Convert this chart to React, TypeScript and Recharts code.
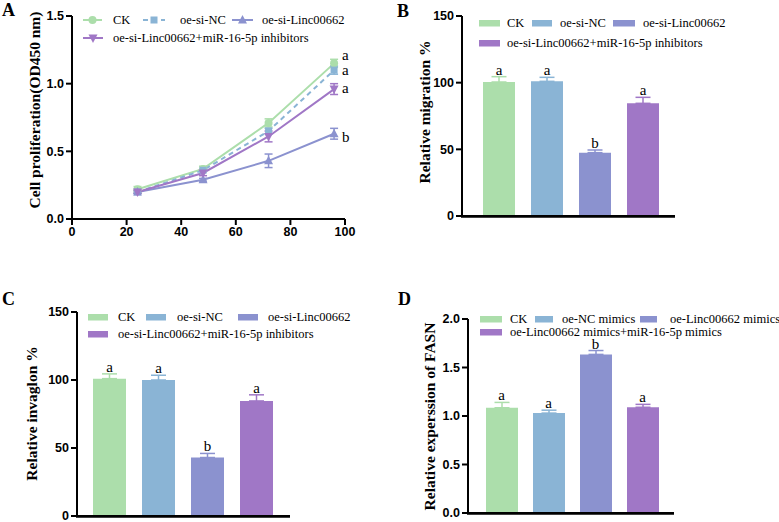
import React from "react";
import {
  ComposedChart,
  LineChart,
  Line,
  Bar,
  Cell,
  XAxis,
  YAxis,
  ErrorBar,
  LabelList,
  Legend,
  Label,
  ReferenceLine,
} from "recharts";

const SERIF = '"Liberation Serif", "Times New Roman", serif';
const SANS = '"Liberation Sans", Arial, sans-serif';
const COLORS = ["#ACDEAB", "#8AB4D5", "#8B92CF", "#A077C6"];

// panel A: proliferation curve
const hours = [24, 48, 72, 96];
const hourTicks = [0, 20, 40, 60, 80, 100];
const odTicks = [0, 0.5, 1.0, 1.5];
const odNames = ["CK", "oe-si-NC", "oe-si-Linc00662", "oe-si-Linc00662+miR-16-5p inhibitors"];
const odCK = [0.22, 0.37, 0.71, 1.15];
const odCKErr = [0.02, 0.02, 0.03, 0.03];
const odNC = [0.2, 0.36, 0.65, 1.1];
const odNCErr = [0.01, 0.01, 0.02, 0.03];
const odSi = [0.2, 0.29, 0.43, 0.63];
const odSiErr = [0.01, 0.01, 0.05, 0.04];
const odInh = [0.2, 0.34, 0.61, 0.96];
const odInhErr = [0.01, 0.02, 0.04, 0.04];
const odLetters = ["a", "a", "b", "a"];

// panels B, C
const siGroups = ["CK", "oe-si-NC", "oe-si-Linc00662", "oe-si-Linc00662+miR-16-5p inhibitors"];
const pctTicks = [0, 50, 100, 150];
const migration = [100.5, 101, 47.5, 84.5];
const migrationErr = [4, 3, 2, 4.5];
const migrationLetters = ["a", "a", "b", "a"];
const invasion = [101, 100, 43, 84.6];
const invasionErr = [3.5, 3.5, 3, 4.5];
const invasionLetters = ["a", "a", "b", "a"];

// panel D
const mimicGroups = ["CK", "oe-NC mimics", "oe-Linc00662 mimics", "oe-Linc00662 mimics+miR-16-5p mimics"];
const fasnTicks = [0, 0.5, 1.0, 1.5, 2.0];
const fasn = [1.085, 1.03, 1.635, 1.09];
const fasnErr = [0.055, 0.03, 0.04, 0.03];
const fasnLetters = ["a", "a", "b", "a"];

const odValues = [odCK, odNC, odSi, odInh];
const odErrs = [odCKErr, odNCErr, odSiErr, odInhErr];
const lineData = hours.map((h, i) => {
  const row: any = { h };
  odValues.forEach((s, k) => {
    row["s" + k] = s[i];
    row["e" + k] = odErrs[k][i];
  });
  return row;
});

const tickStyle = { fill: "#000", fontFamily: SANS, fontWeight: 700, fontSize: 12.5 };

type LegendItem = { row: number; mark: number; markW: number; text: number };

function makeLegend(
  names: string[],
  items: LegendItem[],
  rows: number[],
  swatch: (k: number, w: number) => React.ReactNode
) {
  return () => (
    <div style={{ position: "relative", width: "100%", height: "100%" }}>
      {names.map((n, k) => {
        const it = items[k];
        const cy = rows[it.row];
        return (
          <React.Fragment key={n}>
            <svg
              width={it.markW}
              height={12}
              style={{ position: "absolute", left: it.mark, top: cy - 6, overflow: "visible" }}
            >
              {swatch(k, it.markW)}
            </svg>
            <span
              style={{
                position: "absolute",
                left: it.text,
                top: cy - 8,
                height: 16,
                lineHeight: "16px",
                whiteSpace: "nowrap",
                fontFamily: SERIF,
                fontSize: 12.5,
                color: "#000",
              }}
            >
              {n}
            </span>
          </React.Fragment>
        );
      })}
    </div>
  );
}

function marker(k: number, cx: number, cy: number, color: string) {
  if (k === 0) return <circle cx={cx} cy={cy} r={4} fill={color} />;
  if (k === 1) return <rect x={cx - 3.5} y={cy - 3.5} width={7} height={7} fill={color} />;
  if (k === 2)
    return <path d={`M${cx},${cy - 5}L${cx + 4.5},${cy + 3.5}L${cx - 4.5},${cy + 3.5}Z`} fill={color} />;
  return <path d={`M${cx},${cy + 5}L${cx + 4.5},${cy - 3.5}L${cx - 4.5},${cy - 3.5}Z`} fill={color} />;
}

function yTitle(text: string, cx: number, cy: number) {
  return () => (
    <text
      x={cx}
      y={cy}
      transform={`rotate(-90 ${cx} ${cy})`}
      textAnchor="middle"
      dy="0.35em"
      fontFamily={SERIF}
      fontWeight={700}
      fontSize={15.5}
      fill="#000"
    >
      {text}
    </text>
  );
}

const legendA = makeLegend(
  odNames,
  [
    { row: 0, mark: 83, markW: 19, text: 113 },
    { row: 0, mark: 143, markW: 22, text: 180 },
    { row: 0, mark: 232, markW: 21, text: 262 },
    { row: 1, mark: 83, markW: 20, text: 113 },
  ],
  [20, 38],
  (k, w) => (
    <g>
      <line
        x1={0}
        x2={w}
        y1={6}
        y2={6}
        stroke={COLORS[k]}
        strokeWidth={2}
        strokeDasharray={k === 1 ? "5 4" : undefined}
      />
      {marker(k, w / 2, 6, COLORS[k])}
    </g>
  )
);

const letterDy = [-3, 5, 8, 4];

function PanelA() {
  return (
    <LineChart width={390} height={260} data={lineData} margin={{ top: 16, right: 45, left: 0, bottom: 11 }}>
      <XAxis
        dataKey="h"
        type="number"
        domain={[0, 100]}
        ticks={hourTicks}
        interval={0}
        axisLine={{ stroke: "#000", strokeWidth: 2 }}
        tickLine={{ stroke: "#000", strokeWidth: 2 }}
        tickSize={6}
        tick={tickStyle}
        height={30}
      />
      <YAxis
        type="number"
        domain={[0, 1.5]}
        ticks={odTicks}
        interval={0}
        tickFormatter={(v: number) => v.toFixed(1)}
        axisLine={{ stroke: "#000", strokeWidth: 2 }}
        tickLine={{ stroke: "#000", strokeWidth: 2 }}
        tickSize={6}
        tick={tickStyle}
        width={72}
      >
        <Label content={yTitle("Cell proliferation(OD450 nm)", 35, 110)} />
      </YAxis>
      <Legend
        layout="horizontal"
        verticalAlign="middle"
        align="center"
        content={legendA}
        wrapperStyle={{ left: 0, top: 0, width: 390, height: 50 }}
      />
      {odNames.map((n, k) => (
        <Line
          key={n}
          dataKey={"s" + k}
          name={n}
          stroke={COLORS[k]}
          strokeWidth={2}
          strokeDasharray={k === 1 ? "5 4" : undefined}
          isAnimationActive={false}
          activeDot={false}
          dot={(p: any) => <g key={p.index}>{marker(k, p.cx, p.cy, COLORS[k])}</g>}
        >
          <ErrorBar dataKey={"e" + k} direction="y" width={4} stroke={COLORS[k]} strokeWidth={1.5} />
          <LabelList
            dataKey={"s" + k}
            content={(p: any) =>
              p.index === hours.length - 1 ? (
                <text
                  x={(p.x ?? p.viewBox?.x) + 8}
                  y={(p.y ?? p.viewBox?.y) + letterDy[k]}
                  fontFamily={SERIF}
                  fontSize={15}
                  fill="#000"
                >
                  {odLetters[k]}
                </text>
              ) : null
            }
          />
        </Line>
      ))}
    </LineChart>
  );
}

type BarPanelProps = {
  groups: string[];
  values: number[];
  errs: number[];
  letters: string[];
  ticks: number[];
  decimals: number;
  title: string;
  titleX: number;
  titleY: number;
  width: number;
  height: number;
  margin: { top: number; right: number; left: number; bottom: number };
  yWidth: number;
  pad: { left: number; right: number };
  barSize: number;
  legendItems: LegendItem[];
  legendRows: number[];
};

function BarPanel(p: BarPanelProps) {
  const data = p.groups.map((g, i) => ({
    g,
    v: p.values[i],
    idx: i,
    err: [0, p.errs[i]],
    top: p.values[i] + p.errs[i],
    letter: p.letters[i],
  }));
  const legend = makeLegend(p.groups, p.legendItems, p.legendRows, (k, w) => (
    <rect x={0} y={3} width={w} height={6.5} fill={COLORS[k]} />
  ));
  const axisX = p.margin.left + p.yWidth;
  const plotRight = p.width - p.margin.right;
  // the lowest y tick also draws the horizontal baseline
  const yTick = (t: any) => (
    <g>
      {Number(t.payload.value) === p.ticks[0] && (
        <line x1={axisX - 1} x2={plotRight} y1={t.y + 0.5} y2={t.y + 0.5} stroke="#000" strokeWidth={2.5} />
      )}
      <text
        x={t.x}
        y={t.y}
        dy="0.355em"
        textAnchor="end"
        fill="#000"
        fontFamily={SANS}
        fontWeight={700}
        fontSize={12.5}
      >
        {Number(t.payload.value).toFixed(p.decimals)}
      </text>
    </g>
  );
  return (
    <ComposedChart width={p.width} height={p.height} data={data} margin={p.margin}>
      <XAxis
        dataKey="g"
        type="category"
        tick={false}
        tickLine={false}
        axisLine={{ stroke: "#000", strokeWidth: 2 }}
        height={30}
        padding={p.pad}
      />
      <YAxis
        type="number"
        domain={[p.ticks[0], p.ticks[p.ticks.length - 1]]}
        ticks={p.ticks}
        interval={0}
        axisLine={{ stroke: "#000", strokeWidth: 2 }}
        tickLine={{ stroke: "#000", strokeWidth: 2 }}
        tickSize={6}
        tick={yTick}
        width={p.yWidth}
      >
        <Label content={yTitle(p.title, p.titleX, p.titleY)} />
      </YAxis>
      <Legend
        layout="horizontal"
        verticalAlign="middle"
        align="center"
        content={legend}
        wrapperStyle={{ left: 0, top: 0, width: p.width, height: 60 }}
      />
      <Bar dataKey="v" barSize={p.barSize} isAnimationActive={false}>
        {data.map((d) => (
          <Cell key={d.g} fill={COLORS[d.idx]} />
        ))}
        {data.map((d) => (
          <ErrorBar
            key={"e" + d.idx}
            dataKey={(row: any) => (row.idx === d.idx ? row.err : undefined)}
            direction="y"
            width={7.5}
            stroke={COLORS[d.idx]}
            strokeWidth={1.5}
          />
        ))}
      </Bar>
      <ReferenceLine y={p.ticks[0]} stroke="#000" strokeWidth={2} ifOverflow="visible" />
      <Line
        dataKey="top"
        stroke="none"
        dot={false}
        activeDot={false}
        legendType="none"
        isAnimationActive={false}
      >
        <LabelList dataKey="letter" position="top" offset={2} fontFamily={SERIF} fontSize={15} fill="#000" />
      </Line>
    </ComposedChart>
  );
}

function PanelLetter({ ch, left, top }: { ch: string; left: number; top: number }) {
  return (
    <div
      style={{
        position: "absolute",
        left,
        top,
        fontFamily: SERIF,
        fontWeight: 700,
        fontSize: 18,
        lineHeight: "18px",
        color: "#000",
      }}
    >
      {ch}
    </div>
  );
}

export default function App() {
  return (
    <div style={{ position: "relative", width: 779, height: 522, background: "#fff", overflow: "hidden" }}>
      <style>{`body{margin:0}`}</style>
      <div style={{ position: "absolute", left: 0, top: 0 }}>
        <PanelA />
      </div>
      <div style={{ position: "absolute", left: 390, top: 0 }}>
        <BarPanel
          groups={siGroups}
          values={migration}
          errs={migrationErr}
          letters={migrationLetters}
          ticks={pctTicks}
          decimals={0}
          title="Relative migration %"
          titleX={35}
          titleY={112}
          width={389}
          height={260}
          margin={{ top: 16, right: 104, left: 0, bottom: 14 }}
          yWidth={72}
          pad={{ left: 13, right: 8 }}
          barSize={32}
          legendItems={[
            { row: 0, mark: 89, markW: 21, text: 117 },
            { row: 0, mark: 142, markW: 20, text: 170 },
            { row: 0, mark: 223, markW: 22, text: 253 },
            { row: 1, mark: 89, markW: 21, text: 117 },
          ]}
          legendRows={[23, 43]}
        />
      </div>
      <div style={{ position: "absolute", left: 0, top: 260 }}>
        <BarPanel
          groups={siGroups}
          values={invasion}
          errs={invasionErr}
          letters={invasionLetters}
          ticks={pctTicks}
          decimals={0}
          title="Relative invaglon %"
          titleX={32}
          titleY={153.5}
          width={390}
          height={300}
          margin={{ top: 52, right: 100, left: 0, bottom: 14 }}
          yWidth={77}
          pad={{ left: 8, right: 9 }}
          barSize={33}
          legendItems={[
            { row: 0, mark: 88, markW: 20, text: 118 },
            { row: 0, mark: 146, markW: 20, text: 177 },
            { row: 0, mark: 238, markW: 20, text: 268 },
            { row: 1, mark: 88, markW: 20, text: 118 },
          ]}
          legendRows={[57, 74]}
        />
      </div>
      <div style={{ position: "absolute", left: 390, top: 260 }}>
        <BarPanel
          groups={mimicGroups}
          values={fasn}
          errs={fasnErr}
          letters={fasnLetters}
          ticks={fasnTicks}
          decimals={1}
          title="Relative experssion of FASN"
          titleX={40}
          titleY={156.5}
          width={389}
          height={300}
          margin={{ top: 59, right: 105, left: 0, bottom: 17 }}
          yWidth={78}
          pad={{ left: 10, right: 8 }}
          barSize={32}
          legendItems={[
            { row: 0, mark: 90, markW: 22, text: 120 },
            { row: 0, mark: 145, markW: 18, text: 172 },
            { row: 0, mark: 250, markW: 17, text: 280 },
            { row: 1, mark: 90, markW: 22, text: 120 },
          ]}
          legendRows={[59, 72]}
        />
      </div>
      <PanelLetter ch="A" left={2} top={1} />
      <PanelLetter ch="B" left={397} top={2} />
      <PanelLetter ch="C" left={2} top={290} />
      <PanelLetter ch="D" left={398} top={290} />
    </div>
  );
}
